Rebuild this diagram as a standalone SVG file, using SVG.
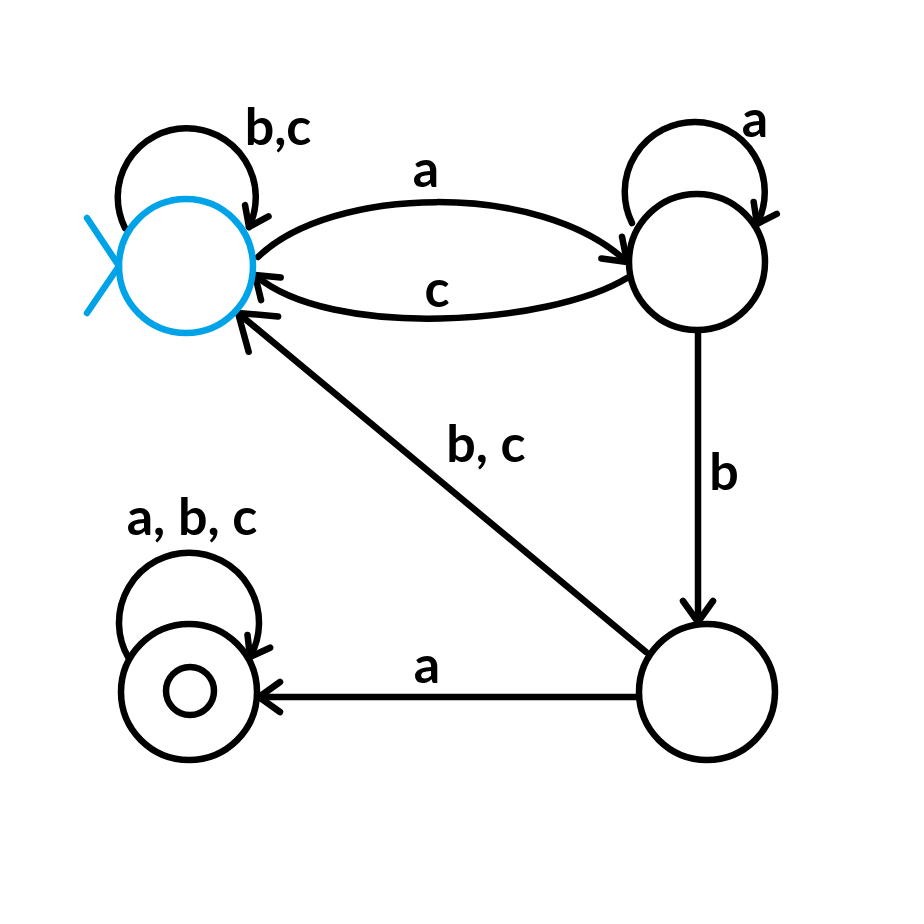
<svg xmlns="http://www.w3.org/2000/svg" width="924" height="924" viewBox="0 0 924 924">
<style>
.st{fill:none;stroke:#000;stroke-width:6.5}
.start{fill:none;stroke:#00A2E8;stroke-width:6.5;stroke-linecap:round;stroke-linejoin:round}
.e{fill:none;stroke:#000;stroke-width:6.5;stroke-linecap:round}
.lbl{font-family:Lato,"Liberation Sans",sans-serif;font-weight:bold;font-size:52px;fill:#000;text-anchor:middle}
</style>
<defs>
<marker id="ah" markerUnits="userSpaceOnUse" viewBox="-40 -40 80 80" markerWidth="80" markerHeight="80" refX="0" refY="0" orient="auto" overflow="visible">
<path d="M-21,-15 L0,0 L-21,15" fill="none" stroke="#000" stroke-width="6.5" stroke-linecap="round" stroke-linejoin="round"/>
</marker>
<marker id="ahs" markerUnits="userSpaceOnUse" viewBox="-40 -40 80 80" markerWidth="80" markerHeight="80" refX="0" refY="0" orient="auto" overflow="visible">
<path d="M-18,-13 L0,0 L-18,13" fill="none" stroke="#000" stroke-width="6.5" stroke-linecap="round" stroke-linejoin="round"/>
</marker>
<marker id="ahb" markerUnits="userSpaceOnUse" viewBox="-50 -50 100 100" markerWidth="100" markerHeight="100" refX="0" refY="0" orient="auto" overflow="visible">
<path d="M-33,-23 L0,0 L-33,23" fill="none" stroke="#000" stroke-width="6.5" stroke-linecap="round" stroke-linejoin="round"/>
</marker>
</defs>
<rect width="924" height="924" fill="#fff"/>
<g id="connectors">
<path class="e" d="M125,228 A69,69 0 1 1 249,227" marker-end="url(#ahs)"/>
<path class="e" d="M632,223 A70,70 0 1 1 757,224" marker-end="url(#ahs)"/>
<path class="e" d="M128,657 A70,70 0 1 1 250,657" marker-end="url(#ahs)"/>
<path class="e" d="M258,257 C330,186 540,180 627,262" marker-end="url(#ah)"/>
<path class="e" d="M627,278 C550,325 330,340 255,275" marker-end="url(#ah)"/>
<path class="e" d="M698,333 L698,622" marker-end="url(#ah)"/>
<path class="e" d="M636,697 L259,697" marker-end="url(#ah)"/>
<path class="e" d="M646,652 L238,313" marker-end="url(#ahb)"/>
<text class="lbl" x="278" y="145">b,c</text>
<text class="lbl" x="755" y="137">a</text>
<text class="lbl" x="426" y="187">a</text>
<text class="lbl" x="437" y="307">c</text>
<text class="lbl" x="486" y="462">b, c</text>
<text class="lbl" x="724" y="490">b</text>
<text class="lbl" x="192" y="535">a, b, c</text>
<text class="lbl" x="427" y="683">a</text>
</g>
<g id="q0">
<circle class="start" cx="186" cy="266" r="67"/>
<path class="start" d="M87,218 L119,266 L87,313"/>
</g>
<g id="q1">
<circle class="st" cx="697" cy="262" r="68"/>
</g>
<g id="q2">
<circle class="st" cx="707" cy="692" r="68"/>
</g>
<g id="q3">
<circle class="st" cx="189" cy="692" r="68"/>
<circle class="st" cx="190" cy="691" r="24"/>
</g>
</svg>
